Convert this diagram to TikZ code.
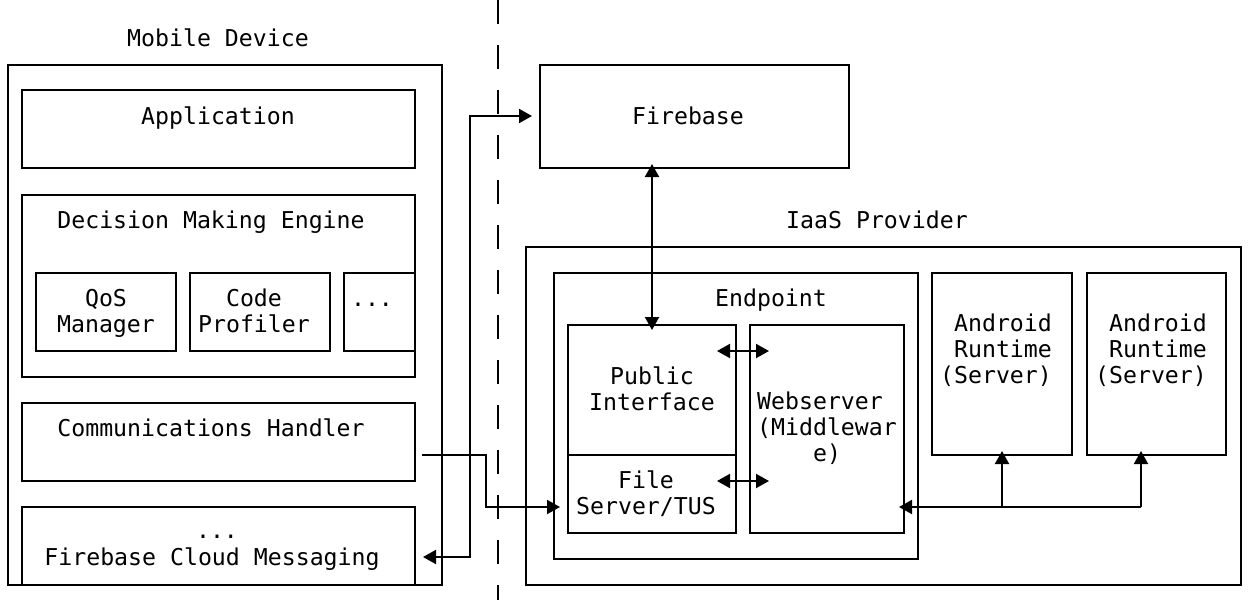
\documentclass[tikz,border=0pt]{standalone}
\usepackage{fontspec}
\newfontfamily\monofont{DejaVu Sans Mono}
\usetikzlibrary{fit,arrows.meta}

\begin{document}
\begin{tikzpicture}[x=0.5pt,y=-0.5pt,
		box/.style={draw, line width=1pt, inner sep=0pt, fit={#1}},
		txt/.style={font=\monofont\fontsize{11.6}{13}\selectfont, inner sep=0pt, align=center},
		link/.style={line width=1pt, >={Triangle[length=6.5pt,width=7pt]}}]
			\useasboundingbox (0,0) rectangle (1248,600);
			\node[box={(8,65) (442,585)}] (mobile) {};
			\node[box={(22,90) (415,168)}] (app) {};
			\node[box={(22,195) (415,377)}] (dme) {};
			\node[box={(36,273) (176,351)}] (qos) {};
			\node[box={(190,273) (330,351)}] (prof) {};
			\node[box={(344,273) (415,351)}] (more) {};
			\node[box={(22,403) (415,481)}] (comm) {};
			\node[box={(22,507) (415,585)}] (fcm) {};
			\node[box={(540,65) (849,168)}] (fire) {};
			\node[box={(526,247) (1241,585)}] (iaas) {};
			\node[box={(554,273) (918,559)}] (endpt) {};
			\node[box={(568,325) (736,455)}] (pub) {};
			\node[box={(568,455) (736,533)}] (fs) {};
			\node[box={(750,325) (904,533)}] (web) {};
			\node[box={(932,273) (1072,455)}] (and1) {};
			\node[box={(1087,273) (1226,455)}] (and2) {};
			\node[txt] at (218,38) {Mobile Device};
			\node[txt] at (218,118) {Application};
			\node[txt] at (211,222) {Decision Making Engine};
			\node[txt] at (106,313) {QoS\\Manager};
			\node[txt] at (254,311) {Code\\Profiler};
			\node[txt] at (372,305) {...};
			\node[txt] at (211,428) {Communications Handler};
			\node[txt] at (217,537) {...};
			\node[txt] at (212,559) {Firebase Cloud Messaging};
			\node[txt] at (688,116) {Firebase};
			\node[txt] at (877,220) {IaaS Provider};
			\node[txt] at (771,300) {Endpoint};
			\node[txt] at (652,389) {Public\\Interface};
			\node[txt] at (646,494) {File\\Server/TUS};
			\node[txt, align=left] at (827,428) {Webserver\\(Middlewar\\\hphantom{(Mid}e)};
			\node[txt, align=right] at (996,350) {Android\\Runtime\\(Server)};
			\node[txt, align=right] at (1151,350) {Android\\Runtime\\(Server)};
			\draw[line width=1pt, dash pattern=on 12pt off 10.5pt] (498,0) -- (498,600);
			\coordinate (commout) at (422,455);
			\coordinate (join) at (1141,507);
			\draw[link,<->,shorten <=3.5pt,shorten >=3.5pt] (fcm.east |- 0,557) -- (470,557) -- (470,116) -- (fire.west |- 0,116);
			\draw[link,<->,shorten <=-3pt,shorten >=-2.5pt] (pub.north) -- (pub.north |- fire.south);
			\draw[link,<->,shorten <=-10pt,shorten >=-10pt] (pub.east |- 0,351) -- (web.west |- 0,351);
			\draw[link,<->,shorten <=-10pt,shorten >=-10pt] (fs.east |- 0,481) -- (web.west |- 0,481);
			\draw[link,->,shorten >=3.5pt] (commout) -- (486,455) -- (486,507) -- (fs.west |- 0,507);
			\draw[link,->,shorten >=-3pt] (join) -- (web.east |- join);
			\draw[link,->,shorten >=-2.5pt] (and1.south |- join) -- (and1.south);
			\draw[link,->,shorten >=-2.5pt] (join) -- (join |- and2.south);
		\end{tikzpicture}
\end{document}
